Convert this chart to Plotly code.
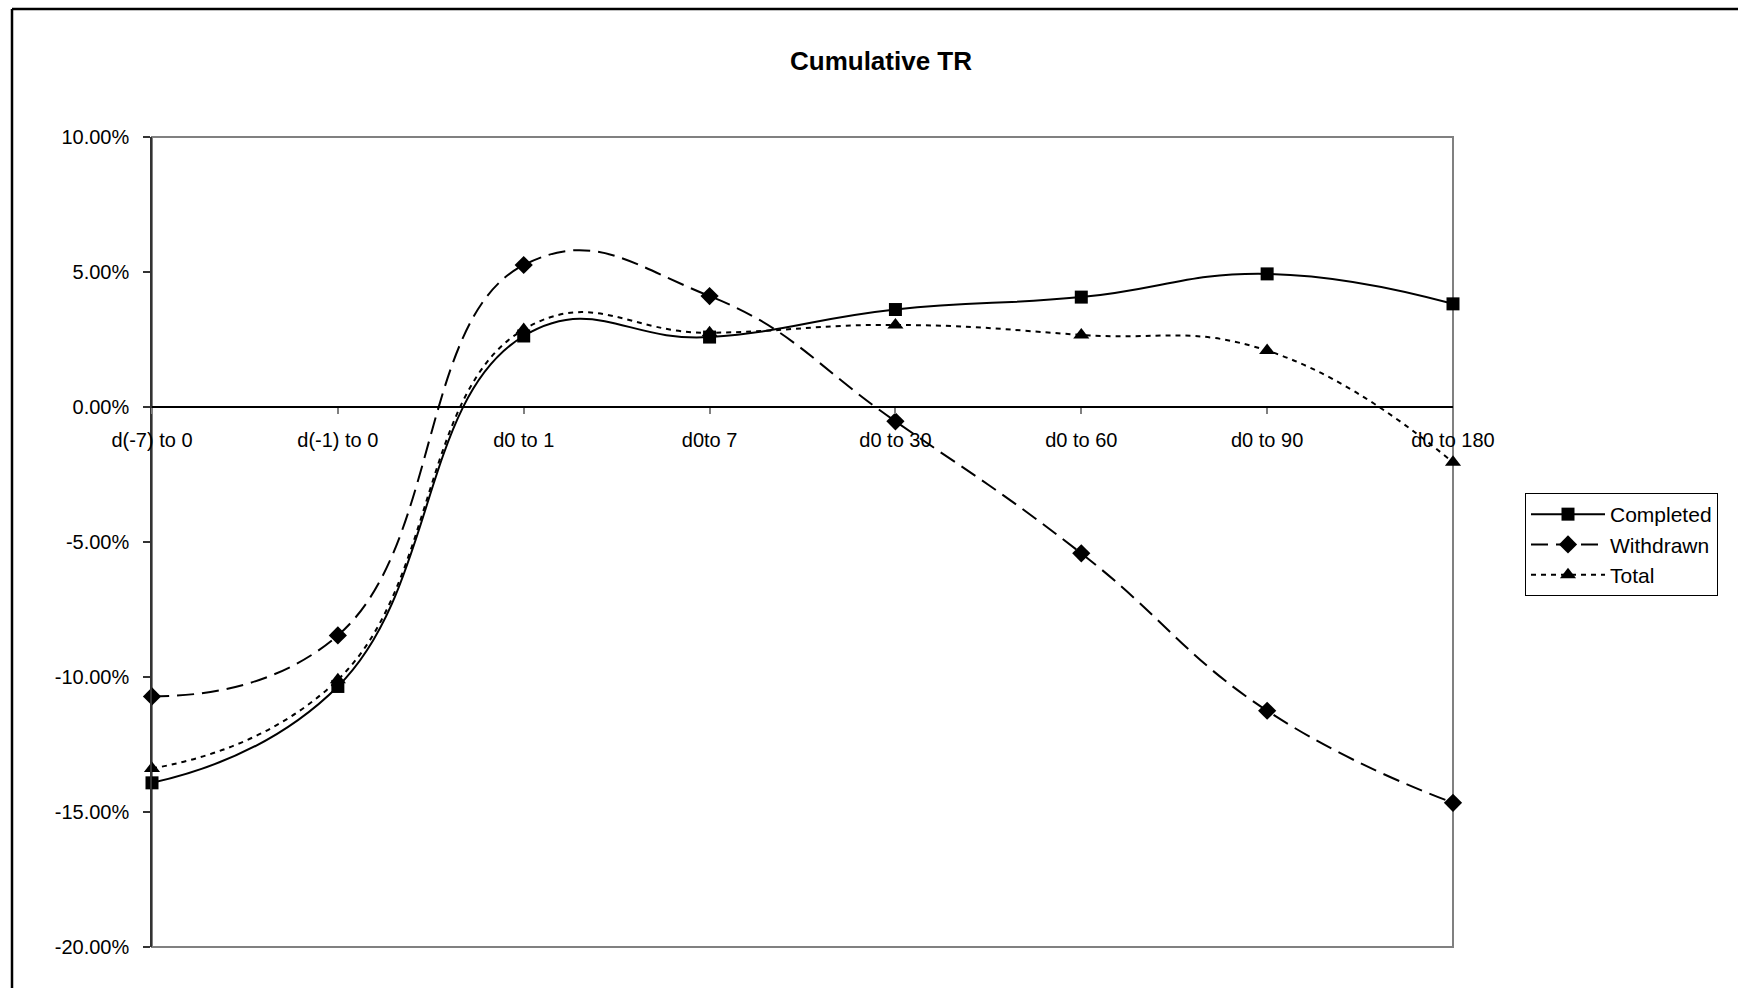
import plotly.graph_objects as go

categories = ["d(-7) to 0", "d(-1) to 0", "d0 to 1", "d0to 7", "d0 to 30", "d0 to 60", "d0 to 90", "d0 to 180"]
completed = [-0.1392, -0.1035, 0.0263, 0.0259, 0.0361, 0.0407, 0.0493, 0.0382]
withdrawn = [-0.1072, -0.0846, 0.0526, 0.0411, -0.0053, -0.0542, -0.1125, -0.1466]
total = [-0.1339, -0.1010, 0.0287, 0.0275, 0.0304, 0.0267, 0.0209, -0.0205]
y_tick_values = [0.10, 0.05, 0.0, -0.05, -0.10, -0.15, -0.20]
y_tick_labels = ["10.00%", "5.00%", "0.00%", "-5.00%", "-10.00%", "-15.00%", "-20.00%"]

FONT = "Liberation Sans, Arial, sans-serif"
SMOOTH = 1.3

fig = go.Figure()
fig.add_trace(go.Scatter(
    x=categories, y=completed, name="Completed", mode="lines+markers",
    line=dict(color="black", width=2, shape="spline", smoothing=SMOOTH),
    marker=dict(symbol="square", size=13, color="black"), cliponaxis=False))
fig.add_trace(go.Scatter(
    x=categories, y=withdrawn, name="Withdrawn", mode="lines+markers",
    line=dict(color="black", width=2, dash="17px,8px", shape="spline", smoothing=SMOOTH),
    marker=dict(symbol="diamond", size=14, color="black"), cliponaxis=False))
fig.add_trace(go.Scatter(
    x=categories, y=total, name="Total", mode="lines+markers",
    line=dict(color="black", width=2, dash="5px,5px", shape="spline", smoothing=SMOOTH),
    marker=dict(symbol="triangle-up", size=14, color="black"), cliponaxis=False))

L, R, T, B = 152, 285, 137, 41
W, H = 1738, 988
pw, ph = W - L - R, H - T - B
def px_x(p):
    return (p - L) / pw
def px_y(p):
    return (H - B - p) / ph

fig.update_layout(
    width=W, height=H,
    margin=dict(l=L, r=R, t=T, b=B, pad=0),
    paper_bgcolor="white", plot_bgcolor="white",
    font=dict(family=FONT, size=20, color="black"),
    title=dict(text="<b>Cumulative TR</b>", x=881 / W, xanchor="center",
               y=1 - 61 / H, yanchor="middle", font=dict(size=26, family=FONT)),
    xaxis=dict(type="category", range=[0, 7], anchor="free", position=2 / 3,
               showline=True, linecolor="black", linewidth=1.5,
               ticks="outside", ticklen=6, tickcolor="#808080", tickwidth=1.5,
               showgrid=False, zeroline=False, ticklabelstandoff=9,
               tickfont=dict(size=20)),
    yaxis=dict(range=[-0.2, 0.1], tickmode="array", tickvals=y_tick_values,
               ticktext=y_tick_labels,
               showline=True, linecolor="#333333", linewidth=1.5,
               ticks="outside", ticklen=7, tickcolor="#333333", tickwidth=1.5,
               showgrid=False, zeroline=False, ticklabelstandoff=10,
               tickfont=dict(size=20)),
    legend=dict(x=px_x(1525), y=px_y(493), xanchor="left", yanchor="top",
                bordercolor="black", borderwidth=1, bgcolor="white",
                font=dict(size=21), tracegroupgap=0, itemwidth=74),
    showlegend=True,
    shapes=[
        dict(type="rect", xref="paper", yref="paper", x0=0, x1=1, y0=0, y1=1,
             line=dict(color="#808080", width=2), layer="below"),
        dict(type="line", xref="paper", yref="paper", x0=px_x(12), x1=px_x(W + 20),
             y0=px_y(9), y1=px_y(9), line=dict(color="black", width=2.5)),
        dict(type="line", xref="paper", yref="paper", x0=px_x(12), x1=px_x(12),
             y0=px_y(9), y1=px_y(H + 20), line=dict(color="black", width=2.5)),
    ],
)

fig.write_html("out.html")
